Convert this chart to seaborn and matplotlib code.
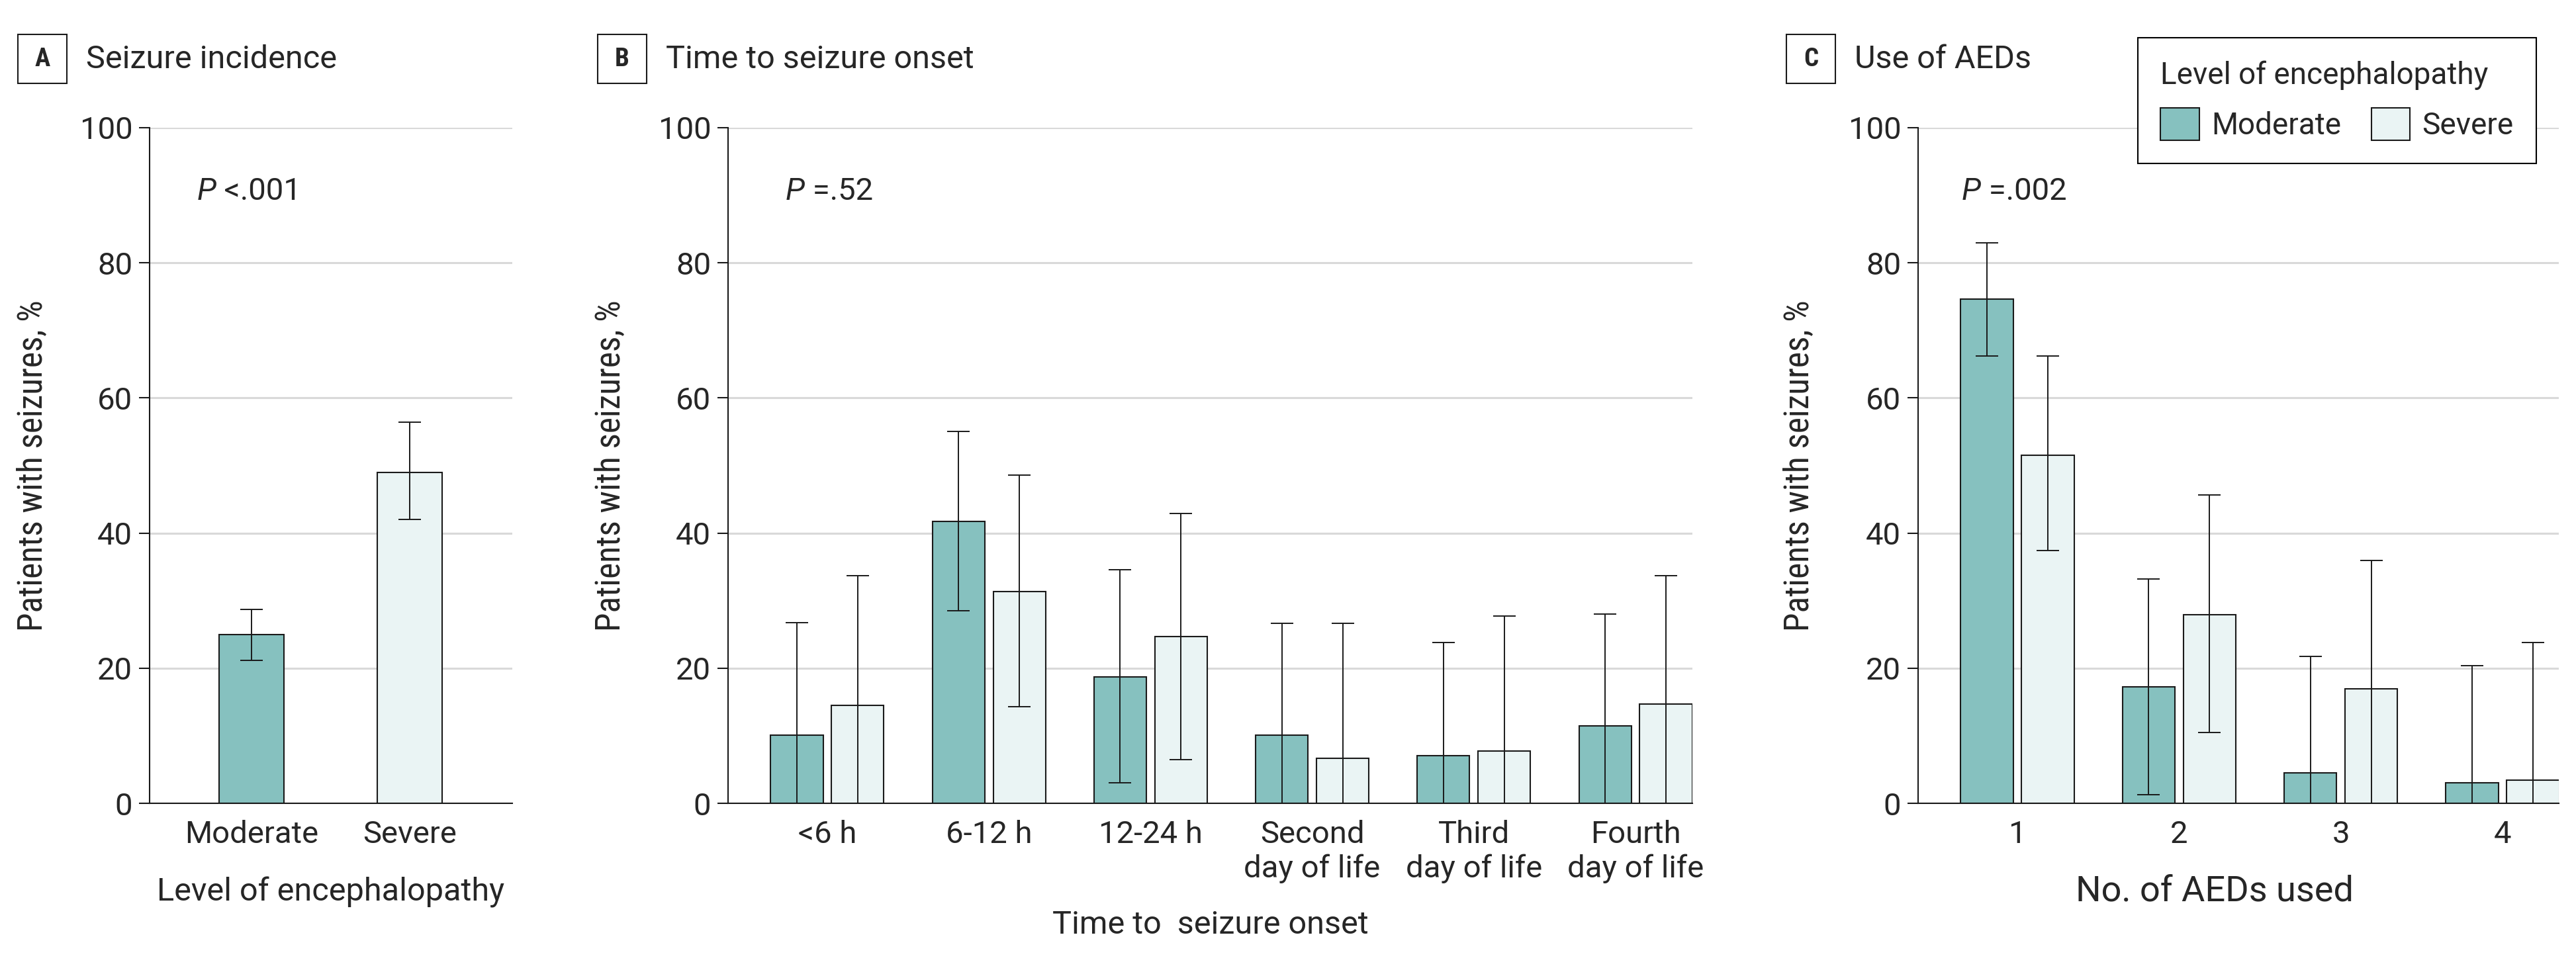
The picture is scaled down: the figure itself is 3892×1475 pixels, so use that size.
import numpy as np
import pandas as pd
import matplotlib
matplotlib.use('Agg')
import matplotlib.pyplot as plt
import seaborn as sns
from matplotlib.patches import Rectangle
from matplotlib.container import BarContainer

sns.set_style('ticks')
WIDE = ['Roboto', 'DejaVu Sans']
NARROW = ['Liberation Sans Narrow', 'DejaVu Sans Condensed',
          'Roboto Condensed', 'Roboto', 'DejaVu Sans']
plt.rcParams['font.family'] = WIDE

# ---- data ----
levels = ['Moderate', 'Severe']
level_colors = ['#86c1bf', '#eaf4f4']

# A - seizure incidence
incidence = [25.0, 49.0]
incidence_lo = [21.2, 42.0]
incidence_hi = [28.7, 56.4]

# B - time to seizure onset
onset_labels = ['<6 h', '6-12 h', '12-24 h', 'Second\nday of life',
                'Third\nday of life', 'Fourth\nday of life']
onset_moderate = [10.1, 41.7, 18.7, 10.1, 7.1, 11.5]
onset_moderate_lo = [0.0, 28.5, 3.0, 0.0, 0.0, 0.0]
onset_moderate_hi = [26.7, 55.0, 34.6, 26.6, 23.8, 28.0]
onset_severe = [14.5, 31.3, 24.7, 6.7, 7.7, 14.7]
onset_severe_lo = [0.0, 14.3, 6.5, 0.0, 0.0, 0.0]
onset_severe_hi = [33.7, 48.6, 42.9, 26.6, 27.7, 33.7]

# C - use of AEDs
aed_labels = ['1', '2', '3', '4']
aed_moderate = [74.6, 17.2, 4.5, 3.0]
aed_moderate_lo = [66.2, 1.3, 0.0, 0.0]
aed_moderate_hi = [83.0, 33.2, 21.7, 20.4]
aed_severe = [51.5, 27.9, 16.9, 3.4]
aed_severe_lo = [37.4, 10.5, 0.0, 0.0]
aed_severe_hi = [66.2, 45.6, 35.9, 23.8]

EDGE = '#1a1a1a'
W, H = 3892, 1475


def interleave(a, b):
    return [v for pair in zip(a, b) for v in pair]


def add_errorbars(ax, values, lo, hi):
    bars = [p for c in ax.containers if isinstance(c, BarContainer) for p in c]
    bars = sorted(bars, key=lambda p: p.get_x())
    xs = [b.get_x() + b.get_width() / 2 for b in bars]
    vals = np.array(values)
    yerr = [vals - np.array(lo), np.array(hi) - vals]
    ax.errorbar(xs, vals, yerr=yerr, fmt='none', ecolor=EDGE,
                elinewidth=1.4, capsize=12, capthick=1.4, zorder=4)


def style_axes(ax, xlim, xlabel, xlabel_pos, ylabel_x, xsize, lsize):
    ax.set_ylim(0, 100)
    ax.set_xlim(*xlim)
    ax.set_yticks(range(0, 101, 20))
    ax.yaxis.grid(True, color='#d9d9d9', linewidth=2.2)
    ax.xaxis.grid(False)
    ax.set_axisbelow(True)
    for s in ['top', 'right']:
        ax.spines[s].set_visible(False)
    for s in ['left', 'bottom']:
        ax.spines[s].set_linewidth(1.5)
        ax.spines[s].set_color(EDGE)
    ax.tick_params(axis='y', length=11.5, width=1.5, color=EDGE,
                   labelsize=34, pad=7)
    ax.tick_params(axis='x', length=0, labelsize=xsize, pad=18)
    ax.set_xlabel(xlabel, fontsize=lsize, va='top')
    ax.xaxis.set_label_coords(*xlabel_pos)
    ax.set_ylabel('Patients with seizures, %', fontsize=37, fontfamily=NARROW)
    ax.yaxis.set_label_coords(ylabel_x, 0.5)


def p_value(ax, x, rest):
    t = ax.text(x, 90.6, 'P', style='italic', fontsize=34, va='center')
    ax.annotate(rest, xy=(1, 0), xycoords=t, fontsize=34,
                va='bottom', ha='left')


def panel_header(fig, box_left, title_left, letter, title):
    fig.add_artist(Rectangle((box_left / W, 1 - 126 / H), 74 / W, 74 / H,
                             transform=fig.transFigure, fc='white',
                             ec=EDGE, lw=1.5))
    fig.text((box_left + 37) / W, 1 - 89 / H, letter, fontsize=28,
             fontweight='bold', ha='center', va='center', fontfamily=NARROW)
    fig.text(title_left / W, 1 - 90 / H, title, fontsize=35,
             ha='left', va='center')


fig = plt.figure(figsize=(W / 100, H / 100), dpi=100)
bottom, height = 1 - 1214 / H, 1021 / H
ax_a = fig.add_axes([226 / W, bottom, 548 / W, height])
ax_b = fig.add_axes([1100 / W, bottom, 1457 / W, height])
ax_c = fig.add_axes([2898 / W, bottom, 968 / W, height])

# ---- A ----
df_a = pd.DataFrame({'level': levels, 'pct': incidence})
sns.barplot(data=df_a, x='level', y='pct', hue='level', hue_order=levels,
            palette=level_colors, saturation=1, width=0.41, edgecolor=EDGE,
            linewidth=1.5, errorbar=None, legend=False, ax=ax_a)
add_errorbars(ax_a, incidence, incidence_lo, incidence_hi)
style_axes(ax_a, (-0.644, 1.649), 'Level of encephalopathy', (0.5, -0.109),
           -0.278, 34, 35)
p_value(ax_a, -0.343, ' <.001')

# ---- B ----
df_b = pd.DataFrame({
    'onset': onset_labels * 2,
    'level': ['Moderate'] * len(onset_labels) + ['Severe'] * len(onset_labels),
    'pct': onset_moderate + onset_severe,
})
sns.barplot(data=df_b, x='onset', y='pct', hue='level', hue_order=levels,
            palette=level_colors, saturation=1, width=0.752, gap=0.138,
            edgecolor=EDGE, linewidth=1.5, errorbar=None, legend=False, ax=ax_b)
add_errorbars(ax_b, interleave(onset_moderate, onset_severe),
              interleave(onset_moderate_lo, onset_severe_lo),
              interleave(onset_moderate_hi, onset_severe_hi))
style_axes(ax_b, (-0.614, 5.352), 'Time to  seizure onset', (0.5, -0.158),
           -0.105, 34, 35)
p_value(ax_b, -0.258, ' =.52')

# ---- C ----
df_c = pd.DataFrame({
    'aeds': aed_labels * 2,
    'level': ['Moderate'] * len(aed_labels) + ['Severe'] * len(aed_labels),
    'pct': aed_moderate + aed_severe,
})
sns.barplot(data=df_c, x='aeds', y='pct', hue='level', hue_order=levels,
            palette=level_colors, saturation=1, width=0.752, gap=0.138,
            edgecolor=EDGE, linewidth=1.5, errorbar=None, legend=True, ax=ax_c)
add_errorbars(ax_c, interleave(aed_moderate, aed_severe),
              interleave(aed_moderate_lo, aed_severe_lo),
              interleave(aed_moderate_hi, aed_severe_hi))
style_axes(ax_c, (-0.614, 3.348), 'No. of AEDs used', (0.463, -0.105),
           -0.160, 34, 39)
p_value(ax_c, -0.344, ' =.002')

sns.move_legend(ax_c, 'upper right', bbox_to_anchor=(3832 / W, 1 - 57 / H),
                bbox_transform=fig.transFigure, ncol=2, borderaxespad=0,
                title='Level of encephalopathy', frameon=True,
                prop={'family': WIDE, 'size': 33},
                title_fontproperties={'family': WIDE, 'size': 33},
                alignment='left', handlelength=1.27,
                handleheight=1.27, handletextpad=0.4, columnspacing=1.0,
                labelspacing=0.6, borderpad=0.75, fancybox=False,
                edgecolor='black', framealpha=1)
ax_c.get_legend().get_frame().set_linewidth(1.5)

panel_header(fig, 27, 130, 'A', 'Seizure incidence')
panel_header(fig, 903, 1006, 'B', 'Time to seizure onset')
panel_header(fig, 2699, 2802, 'C', 'Use of AEDs')

fig.savefig('out.png', dpi=100)
